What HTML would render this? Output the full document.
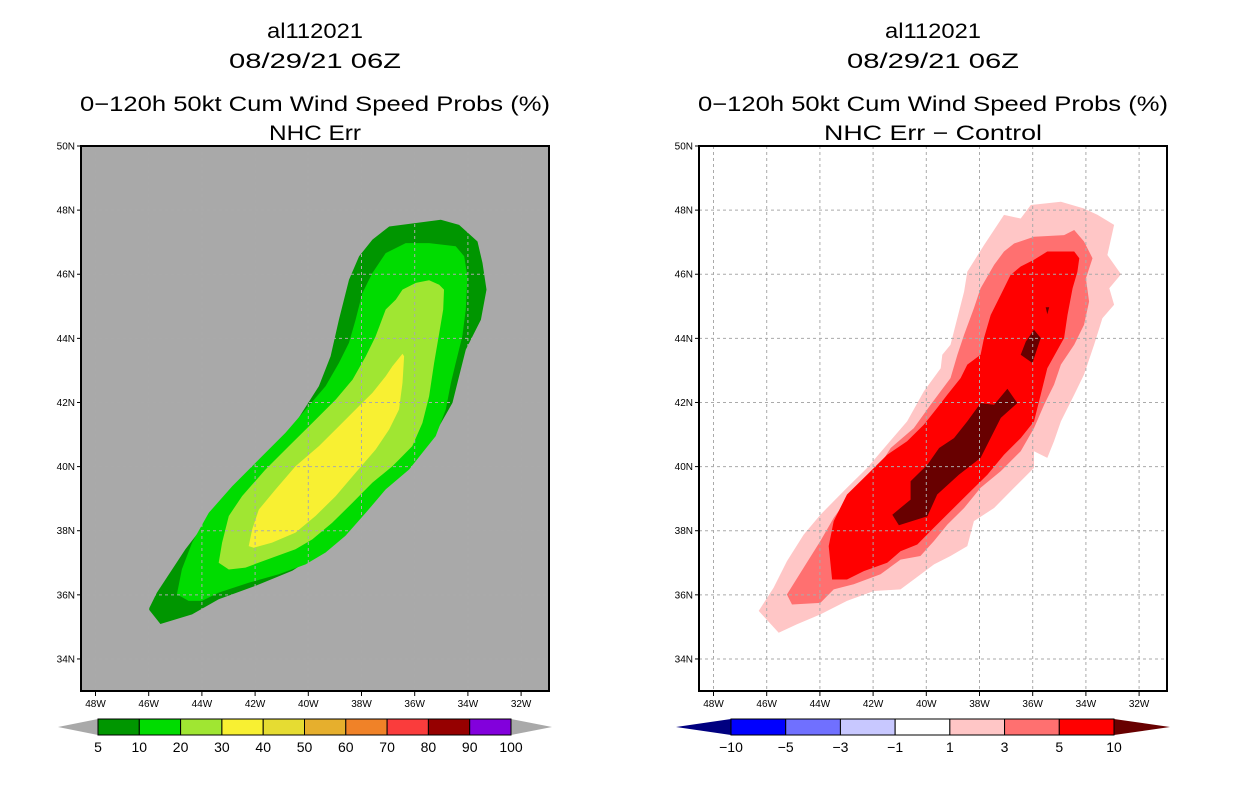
<!DOCTYPE html>
<html><head><meta charset="utf-8">
<style>
html,body{margin:0;padding:0;background:#fff;}
svg{display:block;font-family:"Liberation Sans",sans-serif;}
</style></head>
<body>
<svg id="root" width="1236" height="800" viewBox="0 0 1236 800" xmlns="http://www.w3.org/2000/svg">
<g id="left"></g>
<g id="right"></g>
</svg>
<script>
// ---- axis ticks ----
const lonTicks = [48,46,44,42,40,38,36,34,32];
const latTicks = [50,48,46,44,42,40,38,36,34];
// ---- left panel: cumulative probability contours (lon degW, lat degN) ----
const probLevels = [5,10,20,30];
const p5Lon = [46.00,45.56,44.37,43.37,41.99,40.60,39.35,38.09,36.96,35.96,35.08,34.58,34.33,34.08,33.51,33.30,33.45,33.64,34.33,35.02,36.96,37.59,38.09,38.47,38.85,39.16,39.60,40.48,41.86,43.37,44.62,45.69];
const p5Lat = [35.55,35.09,35.39,35.86,36.28,36.75,37.42,38.46,39.50,40.33,41.26,41.99,42.82,43.65,44.58,45.52,46.35,47.02,47.54,47.70,47.49,47.08,46.56,45.83,44.58,43.44,42.51,41.37,40.12,38.77,37.42,36.07];
const p10Lon = [44.94,44.50,44.00,43.37,42.24,41.11,40.10,39.35,38.60,37.84,37.09,36.21,35.71,35.21,34.83,34.64,34.46,34.21,34.08,34.02,34.14,34.46,35.46,36.34,37.09,37.59,37.97,38.22,38.47,38.85,39.35,40.10,40.86,41.86,42.86,43.74,44.37,44.75];
const p10Lat = [36.02,35.81,35.81,36.07,36.38,36.64,36.95,37.32,37.84,38.56,39.29,39.91,40.43,40.95,41.78,42.61,43.23,44.06,44.90,45.93,46.56,46.87,46.97,46.97,46.66,46.04,45.41,44.58,43.86,43.23,42.51,41.78,41.05,40.22,39.39,38.56,37.63,36.80];
const p20Lon = [43.37,42.99,42.36,41.36,40.48,39.85,39.10,38.34,37.59,36.84,36.09,35.71,35.46,35.27,35.08,34.93,34.90,35.08,35.46,35.96,36.46,36.71,37.09,37.47,37.84,38.34,38.97,39.85,40.73,41.61,42.49,42.99,43.24];
const p20Lat = [37.00,36.79,36.85,37.16,37.42,37.73,38.25,38.87,39.50,40.01,40.64,41.36,42.19,43.23,44.16,44.90,45.52,45.67,45.81,45.73,45.52,45.21,44.90,44.06,43.44,42.71,42.09,41.36,40.64,39.91,39.08,38.46,37.63];
const p30Lon = [42.24,42.05,41.36,40.48,39.73,38.97,38.22,37.47,36.96,36.59,36.46,36.40,36.46,36.84,37.09,37.59,38.09,38.85,39.60,40.48,41.23,41.86,42.11];
const p30Lat = [37.52,37.47,37.63,37.94,38.46,39.08,39.81,40.53,41.16,41.78,42.61,43.44,43.52,43.13,42.82,42.30,41.89,41.26,40.64,40.01,39.29,38.66,38.04];
// ---- right panel: difference contours ----
const diffLevels = [1,3,5,10];
const d1Lon = [46.30,45.55,44.86,43.98,42.98,41.97,40.97,40.47,39.71,39.09,38.46,38.21,37.45,36.70,35.95,35.95,35.45,35.20,34.94,34.44,34.07,33.69,33.38,32.94,33.12,32.68,33.19,32.94,33.56,34.07,34.94,36.07,36.45,37.08,37.83,38.46,38.58,39.09,39.40,39.46,40.09,40.72,41.47,42.22,42.98,43.98,44.61,45.24,45.74];
const d1Lat = [35.50,34.82,35.08,35.39,35.81,36.12,36.17,36.48,36.95,37.21,37.52,38.30,38.71,39.34,39.96,40.48,40.27,40.79,41.41,42.24,42.87,43.80,44.63,45.05,45.56,46.00,46.60,47.54,47.85,48.05,48.26,48.16,47.74,47.85,46.91,46.08,45.46,43.80,43.49,43.07,42.35,41.41,40.69,39.96,39.34,38.50,37.88,37.05,36.22];
const d3Lon = [45.24,45.05,43.98,43.48,42.73,41.72,40.97,40.22,39.71,39.21,38.58,37.96,37.20,36.45,35.95,35.57,35.20,34.94,34.44,34.07,33.88,34.00,33.75,34.07,34.44,34.82,35.95,36.70,37.08,37.45,37.96,38.21,38.58,38.83,39.09,39.84,40.47,41.34,41.97,42.85,43.48,43.98,44.61];
const d3Lat = [36.01,35.70,35.75,36.17,36.33,36.64,37.10,37.21,37.68,38.19,38.71,39.34,39.86,40.48,41.20,41.93,42.55,43.18,43.80,44.42,45.15,45.87,46.50,47.02,47.38,47.22,47.17,46.96,46.71,46.29,45.56,44.94,44.11,43.49,42.76,41.93,41.20,40.58,39.75,39.13,38.40,37.68,36.85];
const d5Lon = [43.67,43.54,42.98,42.35,41.47,40.97,40.34,39.84,39.21,38.46,37.70,37.08,36.45,35.95,35.70,35.45,34.82,34.69,34.50,34.32,34.25,34.44,35.45,35.95,36.45,36.83,37.20,37.58,37.83,37.96,38.46,38.71,39.21,39.59,40.09,40.72,41.47,42.22,42.98,43.48];
const d5Lat = [37.52,36.48,36.48,36.74,37.00,37.36,37.57,37.99,38.51,39.13,39.75,40.37,40.89,41.41,42.24,43.07,44.01,44.73,45.56,46.08,46.50,46.71,46.71,46.45,46.24,45.98,45.36,44.73,44.01,43.49,43.18,42.76,42.24,41.83,41.31,40.79,40.37,39.75,39.13,38.30];
const d10aLon = [41.28,41.03,39.96,39.59,38.77,37.96,37.20,36.58,36.95,37.45,37.96,38.46,38.96,39.52,39.96,40.59,40.59];
const d10aLat = [38.50,38.17,38.45,39.13,39.75,40.27,41.52,41.98,42.43,41.93,41.98,41.41,40.89,40.58,40.06,39.54,38.97];
const d10bLon = [36.45,36.01,35.70,35.95,36.26];
const d10bLat = [43.49,43.23,44.01,44.27,43.90];
const d10cLon = [35.51,35.38,35.45];
const d10cLat = [44.97,44.97,44.75];
// ---- colorbars ----
const probBarLabels = ["5","10","20","30","40","50","60","70","80","90","100"];
const probBarColors = ["#009600","#00dc00","#a0e632","#f8f032","#e6dc32","#e6af2d","#f08228","#fa3c3c","#960000","#8200dc"];
const diffBarLabels = ["\u221210","\u22125","\u22123","\u22121","1","3","5","10"];
const diffBarColors = ["#0000ff","#7070ff","#c8c8ff","#ffffff","#ffc6c6","#ff7070","#ff0000"];

const NS="http://www.w3.org/2000/svg";
function mk(tag, attrs, parent){const e=document.createElementNS(NS,tag);for(const k in attrs)e.setAttribute(k,attrs[k]);parent.appendChild(e);return e;}

function panel(g, x0, opts){
  const L=x0, R=x0+468, T=146, B=691;
  const xs = lon => x0+14.5 + (48-lon)*26.6;
  const ys = lat => T + (50-lat)*32.06;
  const cx=(L+R)/2;
  const titles=[["al112021",38,"title-storm-id",96],["08/29/21 06Z",68,"title-date",172],["0\u2212120h 50kt Cum Wind Speed Probs (%)",111,"title-product",470],[opts.sub,140,"subtitle",opts.subW]];
  titles.forEach(t=>{
    const e=mk("text",{x:cx,y:t[1],"text-anchor":"middle","font-size":"21",fill:"#000"},g);
    if(t[3]){e.setAttribute("textLength",t[3]);e.setAttribute("lengthAdjust","spacingAndGlyphs");}
    e.textContent=t[0];
    
    
  });
  const bg=mk("rect",{x:L,y:T,width:R-L,height:B-T,fill:opts.bg},g);
  
  
  const clip=mk("clipPath",{id:"clip"+x0},g);
  mk("rect",{x:L,y:T,width:R-L,height:B-T},clip);
  const cg=mk("g",{"clip-path":"url(#clip"+x0+")"},g);
  
  
  opts.polys.forEach(p=>{
    const pts=p.lon.map((v,i)=>xs(v).toFixed(1)+","+ys(p.lat[i]).toFixed(1)).join(" ");
    const e=mk("polygon",{points:pts,fill:p.color},cg);
    
    
  });
  // grid
  lonTicks.forEach(v=>{const x=xs(v);
    const l=mk("line",{x1:x,x2:x,y1:T,y2:B,stroke:"#aaa","stroke-dasharray":"3,3","stroke-width":1},cg);
    
    
  });
  latTicks.forEach(v=>{const y=ys(v);
    const l=mk("line",{x1:L,x2:R,y1:y,y2:y,stroke:"#aaa","stroke-dasharray":"3,3","stroke-width":1},cg);
    
    
  });
  const fr=mk("rect",{x:L,y:T,width:R-L,height:B-T,fill:"none",stroke:"#000","stroke-width":2},g);
  
  
  lonTicks.forEach(v=>{const x=xs(v);
    mk("line",{x1:x,x2:x,y1:B,y2:B+5,stroke:"#000","stroke-width":1},g);
    const t=mk("text",{x:x,y:B+16,"text-anchor":"middle","font-size":"10",fill:"#000"},g);
    t.textContent=v+"W";
    
    
  });
  latTicks.forEach(v=>{const y=ys(v);
    mk("line",{x1:L-4,x2:L,y1:y,y2:y,stroke:"#000","stroke-width":1},g);
    const t=mk("text",{x:L-6,y:y+3.5,"text-anchor":"end","font-size":"10",fill:"#000"},g);
    t.textContent=v+"N";
    
    
  });
  // colorbar
  const cb=opts.cb;
  const bar=mk("g",{},g);
  
  
  const bt=719, bb=735, bm=727;
  const n=cb.colors.length, w=(cb.x1-cb.x0)/n;
  mk("polygon",{points:`${cb.tl},${bm} ${cb.x0},${bt} ${cb.x0},${bb}`,fill:cb.lowC},bar);
  mk("polygon",{points:`${cb.tr},${bm} ${cb.x1},${bt} ${cb.x1},${bb}`,fill:cb.highC},bar);
  cb.colors.forEach((c,i)=>{
    const r=mk("rect",{x:cb.x0+i*w,y:bt,width:w,height:bb-bt,fill:c,stroke:"#000","stroke-width":1},bar);
    
    
  });
  cb.labels.forEach((s,i)=>{
    const t=mk("text",{x:cb.x0+i*w,y:752,"text-anchor":"middle","font-size":"14",fill:"#000"},bar);
    t.textContent=s;
    
    
  });
}

panel(document.getElementById("left"),81,{sub:"NHC Err",subW:92,bg:"#a9a9a9",
  polys:[{lon:p5Lon,lat:p5Lat,color:probBarColors[0],name:"contour-5pct"},
         {lon:p10Lon,lat:p10Lat,color:probBarColors[1],name:"contour-10pct"},
         {lon:p20Lon,lat:p20Lat,color:probBarColors[2],name:"contour-20pct"},
         {lon:p30Lon,lat:p30Lat,color:probBarColors[3],name:"contour-30pct"}],
  cb:{x0:98,x1:511,tl:58,tr:552,colors:probBarColors,labels:probBarLabels,lowC:"#a9a9a9",highC:"#a9a9a9"}});

panel(document.getElementById("right"),699,{sub:"NHC Err \u2212 Control",subW:218,bg:"#ffffff",
  polys:[{lon:d1Lon,lat:d1Lat,color:diffBarColors[4],name:"contour-diff-1"},
         {lon:d3Lon,lat:d3Lat,color:diffBarColors[5],name:"contour-diff-3"},
         {lon:d5Lon,lat:d5Lat,color:diffBarColors[6],name:"contour-diff-5"},
         {lon:d10aLon,lat:d10aLat,color:"#680000",name:"contour-diff-10-south"},
         {lon:d10bLon,lat:d10bLat,color:"#680000",name:"contour-diff-10-north"},
         {lon:d10cLon,lat:d10cLat,color:"#680000",name:"contour-diff-10-spot"}],
  cb:{x0:731,x1:1114,tl:676,tr:1170,colors:diffBarColors,labels:diffBarLabels,lowC:"#000080",highC:"#680000"}});
</script>
</body></html>
